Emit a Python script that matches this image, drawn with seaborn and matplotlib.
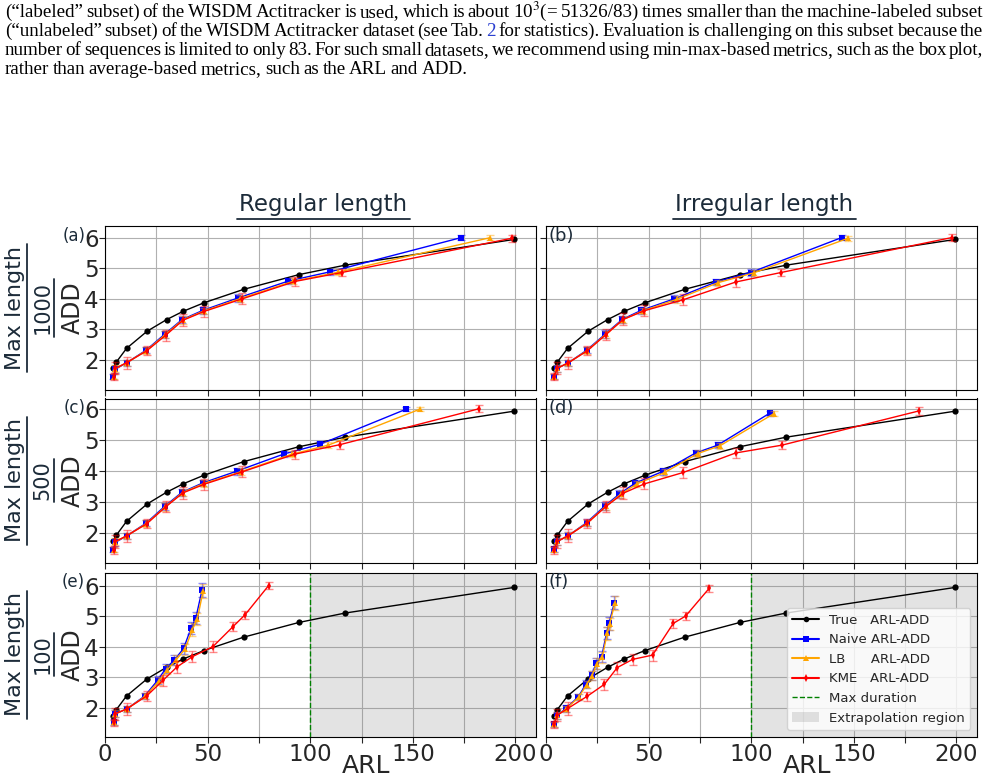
import numpy as np
import matplotlib
matplotlib.use("Agg")
import matplotlib.pyplot as plt
from matplotlib.lines import Line2D
from matplotlib.patches import Patch
from matplotlib.ticker import MultipleLocator
import seaborn as sns

# ---- data ----
true_arl = [3.9, 5.5, 10.5, 20.5, 30.0, 38.0, 48.2, 67.6, 94.4, 117.0, 199.3]
true_add = [1.73, 1.93, 2.38, 2.94, 3.32, 3.59, 3.87, 4.31, 4.79, 5.10, 5.94]

naive_arl_a = [4.0, 5.1, 10.5, 20.0, 29.0, 37.5, 47.6, 64.9, 89.3, 109.5, 173.5]
naive_add_a = [1.46, 1.70, 1.91, 2.32, 2.84, 3.32, 3.62, 4.03, 4.58, 4.88, 6.00]
lb_arl_a = [4.2, 5.1, 10.5, 20.2, 29.4, 37.8, 48.0, 66.0, 91.5, 113.5, 187.8]
lb_add_a = [1.46, 1.72, 1.91, 2.31, 2.83, 3.31, 3.60, 4.01, 4.57, 4.87, 6.00]
kme_arl_a = [4.3, 5.1, 10.5, 20.3, 29.6, 38.0, 48.4, 66.9, 92.7, 115.4, 198.2]
kme_add_a = [1.46, 1.73, 1.91, 2.30, 2.81, 3.30, 3.59, 4.00, 4.57, 4.86, 5.98]

naive_arl_b = [3.9, 5.5, 10.9, 19.8, 28.9, 37.2, 46.3, 62.5, 82.8, 99.7, 144.0]
naive_add_b = [1.46, 1.73, 1.91, 2.32, 2.85, 3.33, 3.62, 4.00, 4.55, 4.86, 6.00]
lb_arl_b = [4.0, 5.5, 10.9, 20.0, 29.1, 37.5, 47.2, 63.6, 83.9, 101.3, 147.2]
lb_add_b = [1.46, 1.73, 1.91, 2.31, 2.84, 3.32, 3.61, 3.98, 4.53, 4.85, 5.98]
kme_arl_b = [3.9, 5.5, 10.9, 20.1, 29.2, 37.7, 47.9, 66.9, 92.5, 114.5, 197.6]
kme_add_b = [1.46, 1.73, 1.91, 2.30, 2.83, 3.33, 3.61, 3.97, 4.55, 4.86, 6.00]

naive_arl_c = [4.0, 5.1, 10.5, 20.0, 29.0, 37.5, 47.6, 64.1, 87.3, 104.8, 146.9]
naive_add_c = [1.47, 1.70, 1.91, 2.32, 2.86, 3.32, 3.62, 4.00, 4.56, 4.87, 6.01]
lb_arl_c = [4.2, 5.1, 10.5, 20.2, 29.4, 37.8, 48.0, 66.5, 91.0, 108.7, 153.6]
lb_add_c = [1.47, 1.72, 1.91, 2.31, 2.85, 3.31, 3.60, 3.99, 4.55, 4.84, 6.01]
kme_arl_c = [4.3, 5.1, 10.5, 20.3, 29.6, 38.0, 48.4, 66.9, 92.4, 114.6, 182.3]
kme_add_c = [1.46, 1.73, 1.91, 2.30, 2.85, 3.30, 3.58, 3.98, 4.55, 4.86, 6.02]

naive_arl_d = [3.9, 5.5, 10.9, 19.8, 28.7, 35.7, 43.3, 57.1, 72.9, 83.6, 109.1]
naive_add_d = [1.48, 1.73, 1.92, 2.34, 2.88, 3.26, 3.61, 4.00, 4.59, 4.84, 5.88]
lb_arl_d = [4.0, 5.5, 10.9, 20.0, 29.0, 36.3, 44.2, 57.9, 73.9, 84.7, 111.0]
lb_add_d = [1.47, 1.73, 1.92, 2.33, 2.86, 3.25, 3.59, 3.96, 4.57, 4.82, 5.86]
kme_arl_d = [3.9, 5.5, 10.9, 20.1, 29.2, 37.7, 47.9, 66.9, 92.4, 114.8, 181.8]
kme_add_d = [1.46, 1.73, 1.92, 2.32, 2.86, 3.29, 3.59, 3.96, 4.59, 4.84, 5.95]

naive_arl_e = [4.2, 5.1, 10.5, 19.4, 25.7, 29.6, 33.8, 38.3, 41.9, 44.3, 47.3]
naive_add_e = [1.51, 1.80, 1.95, 2.38, 2.90, 3.28, 3.56, 3.94, 4.60, 4.95, 5.86]
lb_arl_e = [4.3, 5.1, 10.5, 19.6, 26.3, 30.4, 34.6, 39.0, 42.6, 45.0, 47.8]
lb_add_e = [1.51, 1.80, 1.95, 2.37, 2.87, 3.24, 3.56, 3.92, 4.56, 4.91, 5.82]
kme_arl_e = [4.3, 5.1, 10.5, 20.3, 28.4, 35.2, 42.6, 52.6, 62.3, 68.2, 79.7]
kme_add_e = [1.51, 1.80, 1.95, 2.38, 2.90, 3.34, 3.67, 4.00, 4.65, 5.04, 6.00]

naive_arl_f = [3.9, 5.5, 9.7, 15.7, 19.5, 22.2, 24.4, 27.1, 29.5, 30.7, 33.3]
naive_add_f = [1.45, 1.75, 1.97, 2.35, 2.77, 3.06, 3.45, 3.66, 4.45, 4.76, 5.44]
lb_arl_f = [4.0, 5.5, 9.9, 15.9, 19.8, 22.5, 24.7, 27.4, 29.8, 31.0, 33.6]
lb_add_f = [1.45, 1.75, 1.96, 2.34, 2.75, 3.05, 3.44, 3.65, 4.43, 4.74, 5.43]
kme_arl_f = [3.9, 5.5, 10.6, 20.1, 28.4, 34.7, 42.2, 51.9, 62.0, 68.0, 79.5]
kme_add_f = [1.45, 1.75, 1.97, 2.37, 2.76, 3.31, 3.58, 3.72, 4.76, 5.00, 5.91]

err_naive = [0.08, 0.12, 0.10, 0.10, 0.12, 0.12, 0.10, 0.12, 0.10, 0.10, 0.08]
err_lb = [0.08, 0.12, 0.10, 0.10, 0.12, 0.12, 0.10, 0.12, 0.10, 0.10, 0.08]
err_short = [0.08, 0.12, 0.10, 0.10, 0.12, 0.15, 0.18, 0.18, 0.20, 0.20, 0.22]
err_kme = [0.12, 0.20, 0.20, 0.15, 0.18, 0.20, 0.18, 0.18, 0.15, 0.13, 0.12]

panel_tags = ["(a)", "(b)", "(c)", "(d)", "(e)", "(f)"]
col_titles = ["Regular length", "Irregular length"]
row_lengths = ["1000", "500", "100"]
max_duration = 100

paragraph = [
    "(\u201clabeled\u201d subset) of the WISDM Actitracker is used, which is about 10$^3$(= 51326/83) times smaller than the machine-labeled subset",
    "(\u201cunlabeled\u201d subset) of the WISDM Actitracker dataset (see Tab. 2 for statistics). Evaluation is challenging on this subset because the",
    "number of sequences is limited to only 83. For such small datasets, we recommend using min-max-based metrics, such as the box plot,",
    "rather than average-based metrics, such as the ARL and ADD.",
]

panels = [
    (naive_arl_a, naive_add_a, lb_arl_a, lb_add_a, kme_arl_a, kme_add_a),
    (naive_arl_b, naive_add_b, lb_arl_b, lb_add_b, kme_arl_b, kme_add_b),
    (naive_arl_c, naive_add_c, lb_arl_c, lb_add_c, kme_arl_c, kme_add_c),
    (naive_arl_d, naive_add_d, lb_arl_d, lb_add_d, kme_arl_d, kme_add_d),
    (naive_arl_e, naive_add_e, lb_arl_e, lb_add_e, kme_arl_e, kme_add_e),
    (naive_arl_f, naive_add_f, lb_arl_f, lb_add_f, kme_arl_f, kme_add_f),
]

sns.set_style("ticks", {"axes.grid": True, "grid.color": "#b0b0b0",
                        "axes.edgecolor": "black"})
plt.rcParams["font.family"] = ["DejaVu Sans"]
plt.rcParams["mathtext.fontset"] = "stix"

slate = "#1c2b39"
W, H = 987, 779
fig = plt.figure(figsize=(W / 100, H / 100), dpi=100)

col_x = [105, 546]
col_w = [431, 431]
row_top = [226, 398.5, 572.5]
row_h = 164
ylims = [(1.02, 6.38), (1.05, 6.35), (1.05, 6.43)]

axes = []
for r in range(3):
    for c in range(2):
        ax = fig.add_axes([col_x[c] / W, 1 - (row_top[r] + row_h) / H,
                           col_w[c] / W, row_h / H])
        axes.append(ax)

for i, ax in enumerate(axes):
    r, c = divmod(i, 2)
    naive_x, naive_y, lb_x, lb_y, kme_x, kme_y = panels[i]
    e_n = err_short if r == 2 else err_naive
    e_l = err_short if r == 2 else err_lb
    if r == 2:
        ax.axvspan(max_duration, 210, color="gray", alpha=0.22, lw=0, zorder=1)
        ax.axvline(max_duration, color="green", ls="--", lw=1, zorder=2)
    sns.lineplot(x=true_arl, y=true_add, ax=ax, color="black", marker="o",
                 markersize=4.5, markeredgewidth=0, lw=1, sort=False, zorder=3)
    for xs, ys, es, col, mk in [(naive_x, naive_y, e_n, "blue", "s"),
                                (lb_x, lb_y, e_l, "orange", "^"),
                                (kme_x, kme_y, err_kme, "red", "d")]:
        sns.lineplot(x=xs, y=ys, ax=ax, color=col, marker=mk, markersize=4,
                     markeredgewidth=0, lw=1, sort=False, zorder=4)
        ax.errorbar(xs, ys, yerr=es, fmt="none", ecolor=col, alpha=0.45,
                    capsize=3, elinewidth=1, zorder=4)

    ax.set_xlim(0, 210)
    ax.set_ylim(*ylims[r])
    ax.xaxis.set_major_locator(MultipleLocator(50))
    ax.xaxis.set_minor_locator(MultipleLocator(25))
    ax.set_yticks([2, 3, 4, 5, 6])
    ax.grid(True, which="both", color="#b0b0b0", lw=0.8)
    ax.tick_params(which="both", length=4, width=0.8, labelsize=16.5, pad=0.5)
    for s in ax.spines.values():
        s.set_linewidth(0.8)
    if r < 2:
        ax.tick_params(labelbottom=False)
    else:
        ax.set_xlabel("ARL", fontsize=18)
        ax.xaxis.set_label_coords(0.605, -0.108)
    if c == 1:
        ax.tick_params(labelleft=False)
        ax.text(0.005, 0.94, panel_tags[i], transform=ax.transAxes,
                ha="left", va="center", fontsize=13, color=slate)
    else:
        ax.set_ylabel("ADD", fontsize=17)
        ax.yaxis.set_label_coords(-0.046, 0.5)
        ax.text(-0.046, 0.94, panel_tags[i], transform=ax.transAxes,
                ha="right", va="center", fontsize=12, color=slate)

# legend in panel (f)
handles = [
    Line2D([], [], color="black", marker="o", ms=4, mew=0, lw=1.5),
    Line2D([], [], color="blue", marker="s", ms=4, mew=0, lw=1.5),
    Line2D([], [], color="orange", marker="^", ms=4, mew=0, lw=1.5),
    Line2D([], [], color="red", marker="d", ms=4, mew=0, lw=1.5),
    Line2D([], [], color="green", ls="--", lw=1),
    Patch(facecolor="gray", alpha=0.22, lw=0),
]
labels = ["True   ARL-ADD", "Naive ARL-ADD", "LB      ARL-ADD",
          "KME   ARL-ADD", "Max duration", "Extrapolation region"]
axes[5].legend(handles, labels, loc="lower right", fontsize=9.5)

renderer = fig.canvas.get_renderer()


def underline(txt, pad_px=2, gap_px=3, vertical=False):
    bb = txt.get_window_extent(renderer)
    if vertical:
        x = (bb.x1 + gap_px) / W
        line = Line2D([x, x], [(bb.y0 - pad_px) / H, (bb.y1 + pad_px) / H],
                      color=slate, lw=1.3, transform=fig.transFigure)
    else:
        y = (bb.y0 - gap_px) / H
        line = Line2D([(bb.x0 - pad_px) / W, (bb.x1 + pad_px) / W], [y, y],
                      color=slate, lw=1.3, transform=fig.transFigure)
    fig.add_artist(line)


# column titles
for c in range(2):
    xc = (col_x[c] + col_w[c] / 2) / W
    t = fig.text(xc + 3 / W, 1 - 205 / H, col_titles[c], ha="center",
                 va="center", fontsize=16.5, color=slate)
    underline(t, pad_px=2, gap_px=2)

# row labels: Max length over the length, underlined
for r in range(3):
    yc = 1 - (row_top[r] + row_h / 2) / H
    t1 = fig.text(15 / W, yc, "Max length", rotation=90, ha="center",
                  va="center", fontsize=16, color=slate)
    underline(t1, pad_px=2, gap_px=2, vertical=True)
    t2 = fig.text(42.5 / W, yc, row_lengths[r], rotation=90, ha="center",
                  va="center", fontsize=15, color=slate)
    underline(t2, pad_px=2, gap_px=1.5, vertical=True)

# paragraph text on top, justified
line_y = [17, 36, 55, 74]
x_left, x_right = 5, 983
for k, line in enumerate(paragraph):
    words = line.split(" ")
    objs = []
    for w in words:
        objs.append(fig.text(0, 1 - line_y[k] / H, w, fontsize=13.7,
                             family="Liberation Serif",
                             color="#2a3fd0" if (w == "2" and k == 1) else "black",
                             ha="left", va="baseline"))
    widths = [o.get_window_extent(renderer).width for o in objs]
    space = 3.4
    if k < len(paragraph) - 1:
        gap = max((x_right - x_left - sum(widths)) / (len(words) - 1), 1.5)
    else:
        gap = space
    x = x_left
    for o, wd in zip(objs, widths):
        o.set_x(x / W)
        x += wd + gap

fig.savefig("out.png", dpi=100)
